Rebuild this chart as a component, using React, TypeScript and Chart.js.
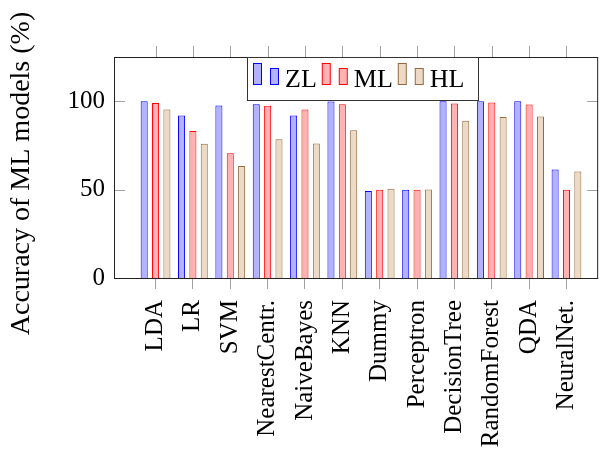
import React, { useEffect, useRef } from "react";
import { Chart, registerables } from "chart.js";

Chart.register(...registerables);

const categories = [
  "LDA",
  "LR",
  "SVM",
  "NearestCentr.",
  "NaiveBayes",
  "KNN",
  "Dummy",
  "Perceptron",
  "DecisionTree",
  "RandomForest",
  "QDA",
  "NeuralNet.",
];
const zlValues = [100, 91.9, 97.5, 98.3, 91.9, 99.8, 49.2, 49.9, 100, 100, 100, 61.4];
const mlValues = [99, 83.2, 70.6, 97.4, 95.3, 98.3, 49.9, 49.9, 98.7, 99.2, 98.1, 49.9];
const hlValues = [95.3, 75.9, 63.3, 78.5, 76.1, 83.6, 50.5, 50.1, 88.9, 91.0, 91.3, 60.3];
const seriesNames = ["ZL", "ML", "HL"];
const yTicks = [0, 50, 100];
const yTitle = "Accuracy of ML models (%)";

const FONT = "'Liberation Serif', 'Times New Roman', serif";
const fills = ["rgb(178,178,255)", "rgb(255,178,178)", "rgb(236,217,198)"];
const strokes = ["rgb(0,0,255)", "rgb(255,0,0)", "rgb(150,105,60)"];

const framePlugin = {
  id: "frame",
  afterDraw(chart: any) {
    const { ctx, chartArea: a, scales } = chart;
    const xs = scales.x;
    const ys = scales.y;
    ctx.save();
    // tick marks
    ctx.strokeStyle = "#a0a0a0";
    ctx.lineWidth = 1;
    ctx.beginPath();
    categories.forEach((_, i) => {
      const px = Math.round(xs.getPixelForValue(i)) + 0.5;
      ctx.moveTo(px, a.top - 11);
      ctx.lineTo(px, a.top);
    });
    yTicks.forEach((v) => {
      const py = Math.round(ys.getPixelForValue(v)) + 0.5;
      ctx.moveTo(a.left, py);
      ctx.lineTo(a.left + 11, py);
      ctx.moveTo(a.right - 11, py);
      ctx.lineTo(a.right, py);
    });
    ctx.stroke();
    // frame
    ctx.strokeStyle = "#222";
    ctx.lineWidth = 1;
    ctx.strokeRect(a.left + 0.5, a.top + 0.5, a.right - a.left - 1, a.bottom - a.top);

    // y axis title
    ctx.save();
    ctx.translate(22, (a.top + a.bottom) / 2 + 6);
    ctx.rotate(-Math.PI / 2);
    ctx.fillStyle = "#000";
    ctx.font = `28px ${FONT}`;
    ctx.textAlign = "center";
    ctx.textBaseline = "middle";
    ctx.fillText(yTitle, 0, 0);
    ctx.restore();

    // legend
    const x0 = a.left + 133;
    const y0 = a.top;
    const w = 231;
    const h = 43;
    ctx.fillStyle = "#fff";
    ctx.fillRect(x0 + 0.5, y0 + 0.5, w, h);
    ctx.strokeStyle = "#333";
    ctx.strokeRect(x0 + 0.5, y0 + 0.5, w, h);
    ctx.font = `26px ${FONT}`;
    ctx.textBaseline = "alphabetic";
    ctx.textAlign = "left";
    let x = x0 + 6;
    chart.data.datasets.forEach((ds: any, i: number) => {
      ctx.fillStyle = fills[i];
      ctx.strokeStyle = strokes[i];
      ctx.fillRect(x + 0.5, y0 + 6.5, 8, 21);
      ctx.strokeRect(x + 0.5, y0 + 6.5, 8, 21);
      ctx.fillRect(x + 17.5, y0 + 11.5, 8, 16);
      ctx.strokeRect(x + 17.5, y0 + 11.5, 8, 16);
      ctx.fillStyle = "#000";
      ctx.fillText(ds.label, x + 32, y0 + 29.5);
      x += 32 + ctx.measureText(ds.label).width + 5;
    });
    ctx.restore();
  },
};

export default function App() {
  const ref = useRef<HTMLCanvasElement | null>(null);
  useEffect(() => {
    if (!ref.current) return;
    const seriesValues = [zlValues, mlValues, hlValues];
    const chart = new Chart(ref.current, {
      type: "bar",
      data: {
        datasets: seriesValues.map((vals, s) => ({
          label: seriesNames[s],
          data: vals.map((v, i) => ({ x: i, y: v })),
          backgroundColor: fills[s],
          borderColor: strokes[s],
          borderWidth: 1,
          categoryPercentage: 0.912,
          barPercentage: 0.62,
        })),
      },
      options: {
        animation: false,
        responsive: true,
        maintainAspectRatio: false,
        layout: { padding: { top: 57, right: 8, left: 0, bottom: 0 } },
        plugins: { legend: { display: false }, tooltip: { enabled: false } },
        scales: {
          x: {
            type: "linear",
            min: -1.112,
            max: 11.848,
            offset: false,
            afterBuildTicks: (s: any) => {
              s.ticks = categories.map((_, i) => ({ value: i }));
            },
            afterFit: (s: any) => {
              s.height = 173;
            },
            grid: {
              display: true,
              drawOnChartArea: false,
              drawTicks: true,
              tickLength: 11,
              color: "#a0a0a0",
              offset: false,
            },
            border: { display: false },
            ticks: {
              autoSkip: false,
              minRotation: 90,
              maxRotation: 90,
              padding: 11,
              color: "#000",
              font: { family: FONT, size: 25 },
              callback: (v: any) => categories[v] ?? "",
            },
          },
          y: {
            min: 0,
            max: 125,
            afterBuildTicks: (s: any) => {
              s.ticks = yTicks.map((v) => ({ value: v }));
            },
            afterFit: (s: any) => {
              s.width = 114;
            },
            grid: { display: false, drawTicks: false },
            border: { display: false },
            ticks: {
              padding: 9,
              color: "#000",
              font: { family: FONT, size: 25 },
            },
          },
        },
      } as any,
      plugins: [framePlugin],
    });
    return () => chart.destroy();
  }, []);
  return (
    <div style={{ position: "fixed", left: 0, top: 0, width: 608, height: 451 }}>
      <canvas ref={ref} />
    </div>
  );
}
